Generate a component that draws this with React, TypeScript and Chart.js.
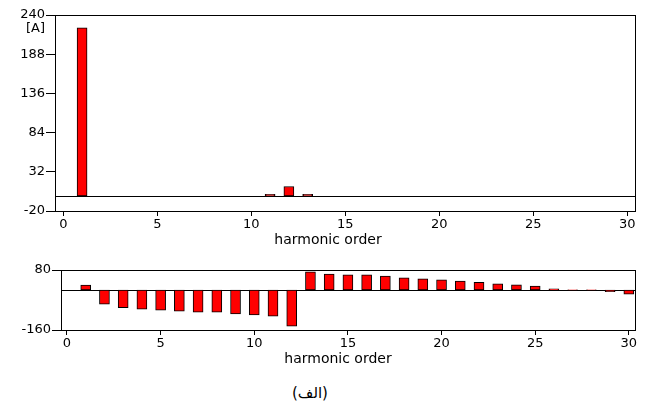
import React, { useEffect, useRef } from "react";
import { Chart, registerables } from "chart.js";

Chart.register(...registerables);

// ---- data ----
const harmonics = [
  1, 2, 3, 4, 5, 6, 7, 8, 9, 10, 11, 12, 13, 14, 15, 16, 17, 18, 19, 20, 21, 22, 23, 24, 25, 26, 27, 28, 29, 30,
];
const amplitudeValues = [
  223, 0, 0, 0, 0, 0, 0, 0, 0, 0, 2, 12.5, 2, 0, 0, 0, 0, 0, 0, 0, 0, 0, 0, 0, 0, 0, 0, 0, 0, 0,
];
const phaseValues = [
  20, -57, -71, -77, -81, -85, -89, -89, -96, -100, -105, -145, 73, 64, 61, 61, 56, 49, 45, 41, 36, 31, 25, 21, 16,
  5, 0.5, 1, -7, -17,
];
const xTickValues = [0, 5, 10, 15, 20, 25, 30];
const topYTickValues = [-20, 32, 84, 136, 188, 240];
const topUnitTickValue = 221.8;
const topUnitLabel = "[A]";
const bottomYTickValues = [-160, 80];
const xTitle = "harmonic order";
const caption = "(الف)";

const FONT = "'DejaVu Sans', sans-serif";

const framePlugin = {
  id: "frame",
  beforeDatasetsDraw(chart: any) {
    const { ctx, chartArea, scales } = chart;
    const y0 = Math.round(scales.y.getPixelForValue(0)) + 0.5;
    ctx.save();
    ctx.strokeStyle = "#000";
    ctx.lineWidth = 1;
    ctx.beginPath();
    ctx.moveTo(chartArea.left, y0);
    ctx.lineTo(chartArea.right, y0);
    ctx.stroke();
    ctx.restore();
  },
  afterDatasetsDraw(chart: any) {
    const { ctx, chartArea } = chart;
    ctx.save();
    ctx.strokeStyle = "#000";
    ctx.lineWidth = 1;
    ctx.strokeRect(
      Math.round(chartArea.left) + 0.5,
      Math.round(chartArea.top) + 0.5,
      Math.round(chartArea.right - chartArea.left),
      Math.round(chartArea.bottom - chartArea.top)
    );
    ctx.restore();
  },
  afterDraw(chart: any, _args: any, opts: any) {
    if (!opts || !opts.text) return;
    const { ctx, chartArea } = chart;
    ctx.save();
    ctx.fillStyle = "#000";
    ctx.font = `${opts.size}px ${FONT}`;
    ctx.textAlign = "center";
    ctx.textBaseline = "middle";
    ctx.fillText(opts.text, (chartArea.left + chartArea.right) / 2 + opts.dx, opts.y);
    ctx.restore();
  },
};

function makeConfig(
  values: number[],
  yMin: number,
  yMax: number,
  yTicks: number[],
  xMin: number,
  xMax: number,
  axisWidth: number,
  axisHeight: number,
  padTop: number,
  titleDx: number,
  titleY: number
): any {
  return {
    type: "bar",
    data: {
      datasets: [
        {
          data: harmonics.map((h, i) => ({ x: h, y: values[i] })),
          backgroundColor: "#ff0000",
          borderColor: "#000000",
          borderWidth: 1,
          borderSkipped: false,
          barThickness: 10,
        },
      ],
    },
    options: {
      responsive: false,
      animation: false,
      events: [],
      layout: { padding: { top: padTop, right: 11, left: 0, bottom: 0 } },
      plugins: {
        legend: { display: false },
        tooltip: { enabled: false },
        frame: { text: xTitle, dx: titleDx, y: titleY, size: 14 },
      },
      scales: {
        x: {
          type: "linear",
          min: xMin,
          max: xMax,
          offset: false,
          border: { display: false },
          grid: { offset: false, drawOnChartArea: false, color: "#000", tickLength: 5, tickWidth: 1 },
          ticks: { color: "#000", font: { family: FONT, size: 13 }, padding: 1, maxRotation: 0, autoSkip: false },
          afterBuildTicks: (scale: any) => {
            scale.ticks = xTickValues.map((v) => ({ value: v }));
          },
          afterFit: (scale: any) => {
            scale.height = axisHeight;
          },
        },
        y: {
          type: "linear",
          min: yMin,
          max: yMax,
          border: { display: false },
          grid: {
            offset: false,
            drawOnChartArea: false,
            color: "#000",
            tickLength: 9,
            tickColor: (c: any) => (c.tick && c.tick.value === topUnitTickValue ? "rgba(0,0,0,0)" : "#000"),
          },
          ticks: {
            color: "#000",
            font: { family: FONT, size: 13 },
            padding: 1,
            autoSkip: false,
            callback: (v: number) => (v === topUnitTickValue ? topUnitLabel : String(v)),
          },
          afterBuildTicks: (scale: any) => {
            scale.ticks = yTicks.map((v) => ({ value: v }));
          },
          afterFit: (scale: any) => {
            scale.width = axisWidth;
          },
        },
      },
    },
    plugins: [framePlugin],
  };
}

function BarPanel(props: { cfg: any; width: number; height: number; top: number }) {
  const ref = useRef<HTMLCanvasElement | null>(null);
  useEffect(() => {
    if (!ref.current) return;
    const chart = new Chart(ref.current, props.cfg);
    return () => chart.destroy();
  }, []);
  return (
    <canvas
      ref={ref}
      width={props.width}
      height={props.height}
      style={{ position: "absolute", left: 0, top: props.top, width: props.width, height: props.height }}
    />
  );
}

export default function App() {
  const topTicks = [...topYTickValues, topUnitTickValue].sort((a, b) => a - b);
  const topCfg = makeConfig(amplitudeValues, -20, 240, topTicks, -0.44, 30.41, 55, 39, 15, -17, 240.7);
  const bottomCfg = makeConfig(phaseValues, -160, 80, bottomYTickValues, -0.32, 30.33, 61, 40, 20, -10, 109);
  return (
    <div style={{ position: "absolute", left: 0, top: 0, width: 646, height: 406, background: "#fff" }}>
      <BarPanel cfg={topCfg} width={646} height={250} top={0} />
      <BarPanel cfg={bottomCfg} width={646} height={120} top={250} />
      <div
        dir="rtl"
        style={{
          position: "absolute",
          left: 260,
          top: 383,
          width: 100,
          textAlign: "center",
          fontFamily: FONT,
          fontSize: 15,
          lineHeight: "20px",
          color: "#000",
        }}
      >
        {caption}
      </div>
    </div>
  );
}
